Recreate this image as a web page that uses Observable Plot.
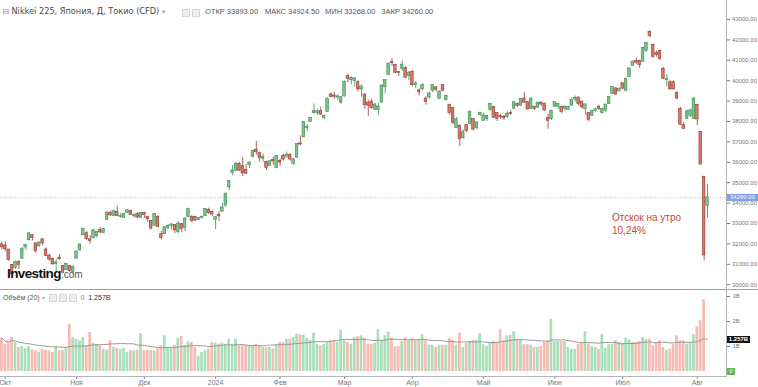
<!DOCTYPE html>
<html><head><meta charset="utf-8">
<script src="https://cdn.jsdelivr.net/npm/d3@7"></script>
<script src="https://cdn.jsdelivr.net/npm/@observablehq/plot@0.6"></script>
<style>
body{margin:0;background:#fff;}
#wrap{position:relative;width:758px;height:387px;overflow:hidden;background:#fff;font-family:"Liberation Sans",Arial,sans-serif;}
.abs{position:absolute;white-space:nowrap;}
.ic{display:inline-block;width:6px;height:6px;border:1px solid #d6d6d6;background:#eee;vertical-align:middle;margin-right:2px;}
svg{position:absolute;left:0;}
</style></head><body><div id="wrap"></div>
<script>
// ---- data ----
const open=[31950,31900,31700,30950,30850,31100,31300,31850,32200,32400,
32000,31900,32200,31700,31400,31250,31050,31300,30900,30750,
30900,30650,31300,31700,32450,32500,32200,32300,32400,32650,
32550,33200,33500,33400,33550,33350,33300,33550,33600,33400,
33450,33300,33500,33300,33100,32900,33300,32450,32500,32800,
32900,32900,32600,32950,32800,33350,33300,33300,33200,33300,
33400,33650,33550,33190,33400,33600,33900,34800,35500,35600,
35900,35800,35600,35900,36300,36600,36430,36200,36000,35850,
36100,35750,36050,36280,36300,36350,35950,36250,36900,37250,
37700,38000,38450,38450,38500,38200,38500,39300,39250,39200,
38950,39250,40200,40050,40000,39900,39600,39300,38900,38950,
38600,38600,38950,39700,40300,40900,40750,40400,40600,40600,
40250,40400,39800,39500,39600,39100,39200,39520,39650,39130,
39770,39080,38780,38640,37700,37750,37200,37800,37900,38100,
37700,38350,38050,38150,38600,38690,38390,38250,38200,38250,
38400,38650,38850,38800,39100,38930,38650,38700,38700,38900,
38850,38150,38150,38750,38750,38690,38650,38600,38800,39100,
39150,38950,38650,38390,38300,38550,38700,38450,38550,38880,
39370,39600,39500,39850,39520,40200,40740,40950,40950,40940,
41480,42360,41730,41350,41430,40550,40050,39900,39900,39380,
38590,37800,38150,38300,38150,38780,37470,35270,33893];
const high=[32080,32100,31720,31000,31160,31190,31800,31950,32533,32450,
32050,32100,32260,31800,31500,31300,31250,31466,30950,31050,
30950,30900,31650,32000,32770,32600,32400,32700,32600,32800,
32750,33530,33600,33650,33850,33500,33500,33650,33650,33450,
33550,33550,33550,33350,33150,33500,33400,32600,32850,32950,
33000,32950,33100,33000,33300,33750,33400,33350,33300,33350,
33700,33750,33600,33320,33570,33990,34480,35100,35840,36000,
36000,36240,35900,36040,36580,37020,36500,36400,36050,36100,
36250,36330,36150,36400,36500,36400,36200,36900,37290,37980,
37850,38200,38865,38600,38700,38300,39156,39400,39430,39300,
39200,39990,40314,40200,40150,40000,39800,39350,39050,39100,
38900,38900,39800,40030,40850,41087,40800,40450,40980,40700,
40450,40500,39950,39600,39850,39200,39450,39800,39700,39500,
39800,39300,38850,38700,38200,37850,37600,37850,38500,38150,
37980,38450,38400,38300,38880,38750,38450,38350,38300,38500,
38550,38950,38900,39100,39420,38950,39150,38750,38950,38950,
38900,38350,38550,38950,38900,38750,38750,38750,39150,39250,
39200,39000,38850,38450,38550,38650,38800,38650,38850,39220,
39720,39650,39650,39900,40100,40600,40950,41100,41000,41630,
41850,42460,41800,41450,41500,40650,40300,40000,40000,39450,
38700,37950,38550,38600,39180,38850,37500,35300,34924.5];
const low=[31700,31620,31150,30490,30750,30750,31250,31700,32150,32150,
31550,31850,31900,31400,31150,30950,30600,31200,30550,30700,
30600,30500,31250,31650,32400,32150,32000,32250,32300,32500,
32500,33150,33350,33350,33350,33250,33250,33500,33400,33250,
33250,33300,33250,33050,32700,32900,32800,32200,32450,32700,
32700,32500,32500,32550,32600,33300,33050,33100,33150,33200,
33350,33450,33350,32690,33090,33600,33800,34600,35350,35550,
35550,35300,35400,35700,36200,36350,36000,36000,35600,35800,
35850,35700,35800,36050,36200,36050,35850,36200,36800,37200,
37500,37950,38350,38300,38300,38100,38450,39150,39100,39050,
38850,39200,39900,39800,39700,39450,39200,38600,38250,38600,
38550,38300,38900,39350,40250,40700,40350,40200,40450,40100,
40000,39700,39600,39250,39500,38800,39100,39400,39450,39100,
39450,39000,38300,37850,37650,36770,37150,37450,37850,37550,
37600,38250,38000,38000,38500,38150,38000,38100,38050,38150,
38300,38600,38700,38750,38900,38550,38600,38550,38650,38750,
38500,37620,38050,38700,38600,38390,38500,38550,38750,38950,
38750,38600,38300,38000,38250,38450,38550,38350,38450,38850,
39350,39300,39450,39550,39500,40150,40700,40800,40600,40900,
41400,42100,41100,41150,41000,40050,39700,39550,39550,39050,
37800,37600,38100,38200,38100,37800,35880,31160,33268];
const close=[31857,31760,31238,30527,31075,30995,31747,31937,32495,32316,
31659,32040,32042,31431,31259,31019,31062,31270,30602,30992,
30697,30859,31602,31950,32708,32272,32166,32646,32568,32585,
32696,33520,33424,33585,33388,33354,33452,33626,33448,33408,
33321,33487,33432,33231,32776,33446,32858,32308,32792,32844,
32926,32686,32971,32759,33219,33676,33140,33169,33255,33306,
33681,33540,33464,33288,33377,33763,34442,35050,35577,35902,
35619,35478,35466,35963,36547,36518,36226,36236,35751,36027,
36066,36287,36011,36158,36354,36161,36120,36863,36897,37964,
37703,38158,38487,38470,38364,38262,39099,39234,39240,39208,
39166,39911,40109,40098,40091,39599,39689,38820,38798,38696,
38807,38708,39740,40004,40816,40888,40414,40398,40763,40168,
40369,39803,39839,39452,39773,38992,39347,39773,39582,39443,
39524,39233,38440,37962,38080,37170,37450,37552,38460,37628,
37935,38406,38274,38236,38835,38202,38150,38229,38179,38356,
38386,38920,38787,39070,38947,38617,39103,38646,38900,38855,
38557,38054,38488,38923,38837,38490,38704,38684,39038,39135,
38877,38720,38815,38102,38482,38571,38633,38596,38805,39173,
39667,39342,39583,39631,40075,40581,40914,40912,40781,41580,
41832,42224,41190,41275,41098,40126,40064,39599,39594,39155,
37870,37667,38469,38526,39102,38126,35910,31458,34260];
// volume, billions
const volume=[1.33,1.09,1.16,1.36,1.16,0.96,1.00,0.92,0.99,0.87,
0.83,0.76,0.89,0.85,0.83,0.76,1.00,0.83,0.85,0.96,
1.89,1.36,1.29,1.23,1.36,1.03,1.56,1.13,1.09,1.03,
0.89,0.85,1.23,0.96,0.92,0.89,0.93,0.76,0.83,0.83,
0.85,1.52,0.85,0.85,0.85,0.83,0.89,1.03,1.43,0.96,
0.96,1.03,1.33,1.40,1.05,1.19,1.16,0.96,0.59,0.76,
0.83,0.89,1.16,1.13,1.09,1.13,1.09,1.29,1.09,1.29,
1.03,1.03,1.03,1.03,1.03,1.09,1.03,0.96,0.96,0.96,
0.89,1.09,1.16,1.16,1.29,1.29,1.36,1.49,1.47,1.45,
1.33,1.25,1.53,1.09,1.03,1.09,1.16,1.23,1.23,1.16,
1.65,1.23,1.16,1.09,1.36,1.39,1.43,1.33,1.09,1.09,
1.12,1.67,1.23,1.43,1.56,1.33,0.99,1.00,1.20,1.33,
1.23,1.33,1.23,1.25,1.47,1.23,1.05,1.05,0.96,1.05,
1.05,1.05,1.33,1.25,1.05,1.53,0.96,1.12,1.20,1.25,
1.25,1.52,1.07,1.00,1.16,1.20,1.16,1.67,1.23,1.43,
1.45,1.59,1.29,1.29,1.07,1.07,1.05,0.96,0.96,1.00,
1.16,1.23,2.09,1.19,1.20,1.19,1.20,0.96,0.89,0.89,
1.09,1.16,1.59,1.09,0.99,0.96,0.89,1.49,0.93,1.07,
1.09,1.23,1.16,1.13,1.33,1.27,1.16,1.16,1.19,1.36,
1.29,1.29,1.03,1.16,1.23,0.96,0.85,0.89,1.07,1.43,
1.23,1.23,1.09,1.12,1.47,1.79,2.03,2.87,0];
const monthStart=[1,22,42,63,82,101,121,142,163,183,205];
const monthLabels=["Окт","Ноя","Дек","2024","Фев","Мар","Апр","Май","Июн","Июл","Авг"];
const priceTicks=[30000,31000,32000,33000,34000,35000,36000,37000,38000,39000,40000,41000,42000,43000];
const volTicks=[1,2,3];
const lastPrice=34260;
const volMA=1.257;
const lastVol=0;
const title="Nikkei 225, Япония, Д, Токио (CFD)";
const ohlcLabels=["ОТКР","МАКС","МИН","ЗАКР"];
const ohlcValues=["33893.00","34924.50","33268.00","34260.00"];
const note=["Отскок на утро","10,24%"];

// ---- build ----
const rows=open.map((o,i)=>({i,o,h:high[i],l:low[i],c:close[i],v:volume[i],up:close[i]>=o}));
const xDomain=[-0.413,213.6];
const UPF="#7cc38b",UPS="#3f8b52",DNF="#d27a6c",DNS="#933d30";
const wrap=document.getElementById("wrap");

const price=Plot.plot({
  width:758,height:289,marginLeft:0,marginRight:32,marginTop:0,marginBottom:0,
  x:{domain:xDomain,axis:null,label:null},
  y:{domain:[29765,43931],axis:null,label:null},
  color:{type:"identity"},
  style:{background:"transparent",color:"#777",fontFamily:"Liberation Sans, Arial, sans-serif",overflow:"visible"},
  marks:[
    Plot.ruleY([lastPrice],{stroke:"#8d9fd3",strokeDasharray:"1,1.5",strokeWidth:0.8}),
    Plot.ruleX(rows,{x:"i",y1:"l",y2:"h",stroke:d=>d.up?UPS:DNS,strokeWidth:0.8}),
    Plot.rect(rows,{x1:d=>d.i-0.38,x2:d=>d.i+0.38,y1:"o",y2:"c",insetTop:-0.5,insetBottom:-0.5,
      fill:d=>d.up?UPF:DNF,stroke:d=>d.up?UPS:DNS,strokeWidth:0.6}),
    Plot.axisY(priceTicks,{anchor:"right",label:null,tickSize:3,tickPadding:2.5,tickFormat:d=>d.toFixed(2),fontSize:6})
  ]
});
price.style.top="0px";
wrap.appendChild(price);

const vol=Plot.plot({
  width:758,height:98,marginLeft:0,marginRight:32,marginTop:0,marginBottom:16,
  x:{domain:xDomain,axis:null,label:null},
  y:{domain:[0,3.28],axis:null,label:null},
  color:{type:"identity"},
  style:{background:"transparent",color:"#777",fontFamily:"Liberation Sans, Arial, sans-serif",overflow:"hidden"},
  marks:[
    Plot.rect(rows,{x1:d=>d.i-0.4,x2:d=>d.i+0.4,y1:0,y2:"v",fill:d=>d.up?"#a8e0b9":"#f5bbb4"}),
    Plot.lineY(rows,Plot.windowY({k:20,anchor:"end"},{x:"i",y:"v",stroke:"#999",strokeWidth:1})),
    Plot.axisY(volTicks,{anchor:"right",label:null,tickSize:3,tickPadding:3,tickFormat:d=>d+"B",fontSize:6}),
    Plot.axisX(monthStart,{anchor:"bottom",label:null,tickSize:2,tickPadding:1,dy:5.7,fontSize:7,
      tickFormat:d=>monthLabels[monthStart.indexOf(d)]})
  ]
});
vol.style.top="289px";
wrap.appendChild(vol);

function div(css,html){const e=document.createElement("div");e.className="abs";e.style.cssText=css;if(html!=null)e.innerHTML=html;wrap.appendChild(e);return e;}
// frame lines
div("left:0;top:289px;width:758px;height:1px;background:#a0a0a0;");
div("left:726px;top:0;width:1px;height:377px;background:#b4b4b4;");
div("left:0;top:376px;width:727px;height:1px;background:#b4b4b4;");

// header
div("left:2px;top:6px;font:8.2px 'DejaVu Sans',sans-serif;color:#4a4a4a;line-height:10px;",
  "<span style='color:#888'>⊟</span> "+title+" <span style='color:#aaa;font-size:7px'>▾</span>");
div("left:182px;top:8px;line-height:8px;","<span class='ic'></span><span class='ic'></span>");
const ohlcX=[205,265,325,381];
ohlcLabels.forEach((l,k)=>div(`left:${ohlcX[k]}px;top:7px;font:7.5px 'Liberation Sans',Arial,sans-serif;color:#555;line-height:10px;`,
  l+"&nbsp;"+ohlcValues[k]));

// current price tag
const yp=price.scale("y").apply(lastPrice);
div(`left:727px;top:${yp-3.5}px;width:31px;height:7px;background:#7e9fe4;color:#fff;font:6px 'Liberation Sans',Arial;line-height:7px;text-align:center;`,
  lastPrice.toFixed(2));

// volume header
div("left:3px;top:293px;font:7px 'Liberation Sans',Arial,sans-serif;color:#555;line-height:9px;",
  "Объём (20) <span style='color:#aaa;font-size:6px'>▾</span>&nbsp; <span class='ic'></span><span class='ic'></span><span class='ic'></span>&nbsp;<span style='color:#4caf50'>"+lastVol+"</span>&nbsp;&nbsp;<span style='color:#333'>"+volMA.toFixed(3)+"B</span>");

// volume tags
const yv=289+vol.scale("y").apply(volMA);
div(`left:727px;top:${yv-3.3}px;width:23px;height:6.6px;background:#111;color:#fff;font:bold 6px 'Liberation Sans',Arial;line-height:6.6px;text-align:center;`,
  volMA.toFixed(3)+"B");
const y0=289+vol.scale("y").apply(lastVol);
div(`left:727px;top:${y0-3.5}px;width:8px;height:7px;background:#5cb85c;color:#fff;font:6px 'Liberation Sans',Arial;line-height:7px;text-align:center;`,
  String(lastVol));

// logo
div("left:7px;top:266px;line-height:16px;color:#111;font:bold 13.5px 'Liberation Sans',Arial,sans-serif;letter-spacing:-0.6px;",
  "Investing<span style='font-weight:normal;font-size:10px;color:#555;letter-spacing:0'>.com</span>");

// annotation
div("left:612px;top:211px;font:10px 'Liberation Sans',Arial,sans-serif;color:#c4473a;line-height:13px;",
  note[0]+"<br>"+note[1]);
</script></body></html>
